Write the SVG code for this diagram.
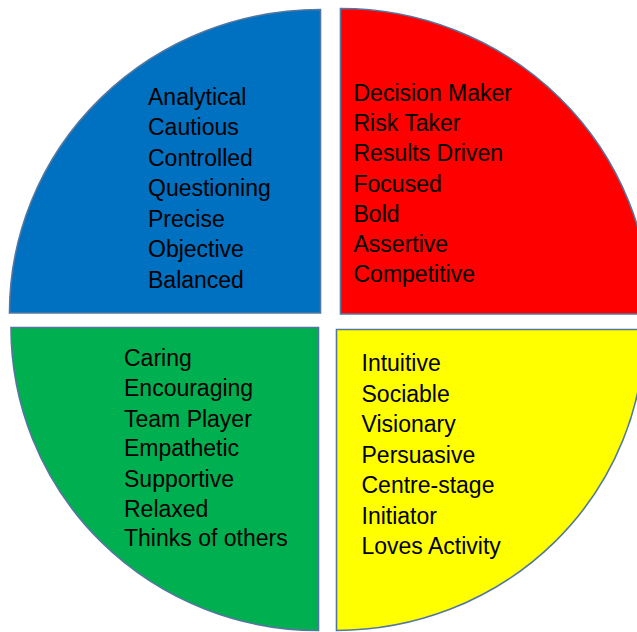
<svg xmlns="http://www.w3.org/2000/svg" width="637" height="632" viewBox="0 0 637 632">
<style>
.q{stroke:#54779f;stroke-width:1.6;stroke-linejoin:miter}
.t{font-family:"Liberation Sans",Arial,sans-serif;font-size:23px;fill:#000}
</style>
<rect width="637" height="632" fill="#fff"/>
<g id="blue">
<path class="q" fill="#0070C0" d="M320.5 313 L9.5 313 A311 303.5 0 0 1 320.5 9.5 Z"/>
<text class="t" x="148">
<tspan x="148" y="104.5">Analytical</tspan>
<tspan x="148" y="135">Cautious</tspan>
<tspan x="148" y="165.5">Controlled</tspan>
<tspan x="148" y="196">Questioning</tspan>
<tspan x="148" y="226.5">Precise</tspan>
<tspan x="148" y="257">Objective</tspan>
<tspan x="148" y="287.5">Balanced</tspan>
</text>
</g>
<g id="red">
<path class="q" fill="#FF0000" d="M340.5 314 L340.5 8.5 A310 305.5 0 0 1 650.5 314 Z"/>
<text class="t">
<tspan x="353.5" y="101">Decision Maker</tspan>
<tspan x="353.5" y="131">Risk Taker</tspan>
<tspan x="353.5" y="161">Results Driven</tspan>
<tspan x="353.5" y="191.5">Focused</tspan>
<tspan x="353.5" y="221.5">Bold</tspan>
<tspan x="353.5" y="251.5">Assertive</tspan>
<tspan x="353.5" y="281.5">Competitive</tspan>
</text>
</g>
<g id="green">
<path class="q" fill="#00B050" d="M318.5 327.5 L11 327.5 A307.5 303 0 0 0 318.5 630.5 Z"/>
<text class="t">
<tspan x="124" y="366">Caring</tspan>
<tspan x="124" y="396">Encouraging</tspan>
<tspan x="124" y="426.5">Team Player</tspan>
<tspan x="124" y="456">Empathetic</tspan>
<tspan x="124" y="486.5">Supportive</tspan>
<tspan x="124" y="516.5">Relaxed</tspan>
<tspan x="124" y="546">Thinks of others</tspan>
</text>
</g>
<g id="yellow">
<path class="q" fill="#FFFF00" d="M336.5 329.5 L644.5 329.5 A308 301 0 0 1 336.5 630.5 Z"/>
<text class="t">
<tspan x="361.5" y="371">Intuitive</tspan>
<tspan x="361.5" y="401.5">Sociable</tspan>
<tspan x="361.5" y="431.5">Visionary</tspan>
<tspan x="361.5" y="462.5">Persuasive</tspan>
<tspan x="361.5" y="492.5">Centre-stage</tspan>
<tspan x="361.5" y="524">Initiator</tspan>
<tspan x="361.5" y="553.5">Loves Activity</tspan>
</text>
</g>
<g id="connectors"/>
</svg>
